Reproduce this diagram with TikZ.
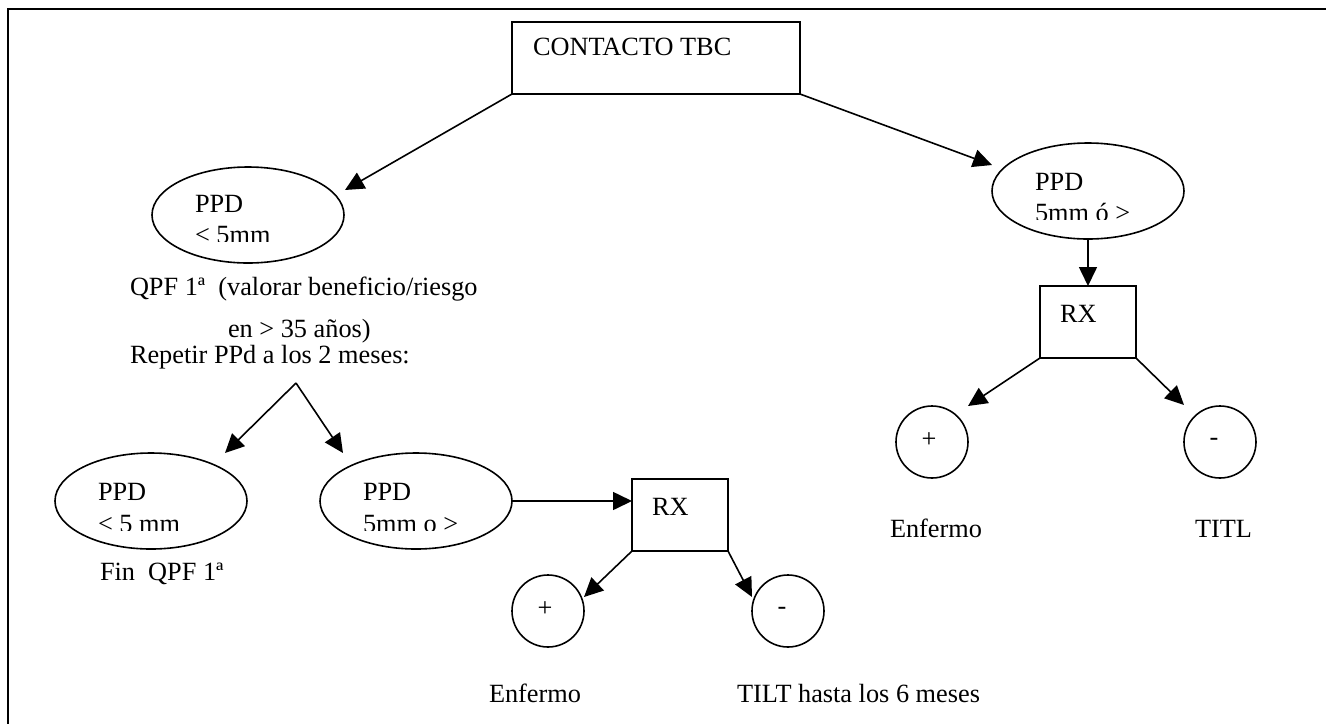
\documentclass[tikz,border=0pt]{standalone}
\usepackage{fontspec}
\setmainfont{Liberation Serif}
\usetikzlibrary{shapes.geometric,arrows.meta}
\begin{document}
\begin{tikzpicture}[x=1pt,y=-1pt,
  every node/.style={font=\fontsize{26.3}{30}\selectfont, inner sep=0pt, outer sep=0pt},
  lbl/.style={anchor=base west},
  ln/.style={line width=1.6pt},
  frame/.style={line width=2.6pt},
  arr/.style={ln,-{Triangle[length=19pt,width=18pt]}},
  sqbox/.style={draw,ln,rectangle},
  ovalnode/.style={draw,ln,ellipse,minimum width=192pt,minimum height=96pt},
  roundnode/.style={draw,ln,circle,minimum size=72pt}
 ]
\useasboundingbox (0,0) rectangle (1326,724);
% frame
\draw[frame] (1326,9) -- (8,9) -- (8,724);

% top box
\node[sqbox,minimum width=288pt,minimum height=72pt] (top) at (656,58) {};
\node[lbl] (toptxt) at (533,55) {CONTACTO TBC};

% top-left ellipse
\begin{scope}
\clip (150,170) rectangle (346,241);
\node[lbl] (e1a) at (195,212) {PPD};
\node[lbl] (e1b) at (195,243) {< 5mm};
\end{scope}
\node[ovalnode] (e1) at (248,215) {};

% top-right ellipse
\begin{scope}
\clip (990,145) rectangle (1186,219);
\node[lbl] (e2a) at (1035,190) {PPD};
\node[lbl] (e2b) at (1035,221) {5mm ó >};
\end{scope}
\node[ovalnode] (e2) at (1088,191) {};

% text block
\node[lbl] (q1) at (130,295) {QPF 1ª\ \ (valorar beneficio/riesgo};
\node[lbl] (q2) at (228,337) {en > 35 años)};
\node[lbl] (q3) at (130,363) {Repetir PPd a los 2 meses:};
\coordinate (apex) at (296,383);

% bottom-left ellipses
\begin{scope}
\clip (53,455) rectangle (249,530);
\node[lbl] (e3a) at (98,500) {PPD};
\node[lbl] (e3b) at (98,532) {< 5 mm};
\end{scope}
\node[ovalnode] (e3) at (151,501) {};
\node[lbl] (fin) at (100,580) {Fin\ \ QPF 1ª};

\begin{scope}
\clip (318,455) rectangle (514,530);
\node[lbl] (e4a) at (363,500) {PPD};
\node[lbl] (e4b) at (363,532) {5mm o >};
\end{scope}
\node[ovalnode] (e4) at (416,501) {};

% bottom RX
\node[sqbox,minimum width=96pt,minimum height=72pt] (rx1) at (680,515) {};
\node[lbl] (rx1t) at (652,515) {RX};
\node[roundnode] (p1) at (548,611) {};
\node (p1t) at (545,609) {+};
\node[roundnode] (m1) at (788,611) {};
\node (m1t) at (782,611) {-};
\node[lbl] (enf1) at (489,702) {Enfermo};
\node[lbl] (tilt) at (737,702) {TILT hasta los 6 meses};

% right RX
\node[sqbox,minimum width=96pt,minimum height=72pt] (rx2) at (1088,322) {};
\node[lbl] (rx2t) at (1060,322) {RX};
\node[roundnode] (p2) at (932,442) {};
\node (p2t) at (929,440) {+};
\node[roundnode] (m2) at (1220,442) {};
\node (m2t) at (1214,442) {-};
\node[lbl] (enf2) at (890,537) {Enfermo};
\node[lbl] (titl) at (1195,537) {TITL};

% arrow tips
\coordinate (t1) at (345,190);
\coordinate (t2) at (992,165);
\coordinate (t3) at (225,453);
\coordinate (t4) at (343,453);
\coordinate (t5) at (584,597);
\coordinate (t6) at (752,597);
\coordinate (t7) at (968,406);
\coordinate (t8) at (1184,405);

% connectors
\draw[arr] (top.south west) -- (t1);
\draw[arr] (top.south east) -- (t2);
\draw[arr] (apex) -- (t3);
\draw[arr] (apex) -- (t4);
\draw[arr] (e4.east) -- (e4.east -| rx1.west);
\draw[arr] (rx1.south west) -- (t5);
\draw[arr] (rx1.south east) -- (t6);
\draw[arr] (e2.south) -- (rx2.north);
\draw[arr] (rx2.south west) -- (t7);
\draw[arr] (rx2.south east) -- (t8);
\end{tikzpicture}
\end{document}
